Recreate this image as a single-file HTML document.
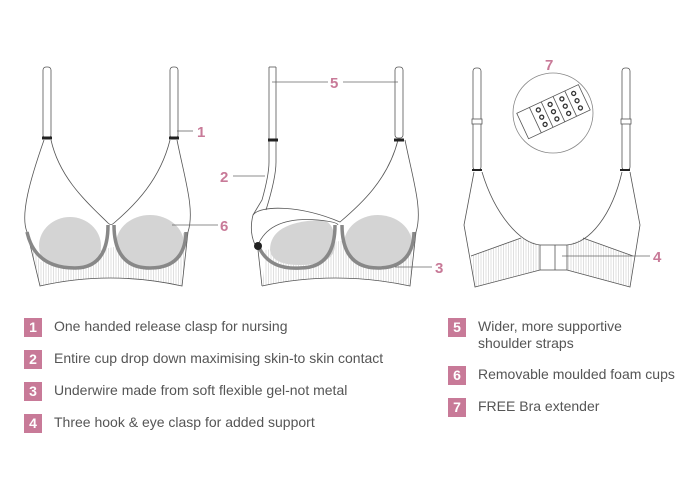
<!DOCTYPE html>
<html><head><meta charset="utf-8"><style>
body{margin:0;background:#fff;width:700px;height:500px;overflow:hidden;font-family:"Liberation Sans",sans-serif}
.b{position:absolute;width:18px;height:19px;background:#c87a98;color:#fff;font-size:14px;line-height:19px;text-align:center;font-weight:bold}
.t{position:absolute;font-size:14px;color:#555;line-height:17px}
</style></head><body>
<svg width="700" height="500" style="position:absolute;left:0;top:0">
<defs>
<pattern id="vl" width="2.5" height="10" patternUnits="userSpaceOnUse"><line x1="1" y1="0" x2="1" y2="10" stroke="#ccc" stroke-width="0.6"/></pattern>
<clipPath id="c1"><path d="M27,232 Q35,268 75,268 Q108,268 108,225 L108,200 L27,200Z"/></clipPath>
<clipPath id="c2"><path d="M114,225 Q114,268 150,268 Q185,268 186,232 L186,200 L114,200Z"/></clipPath>
<clipPath id="c3"><path d="M342,225 Q342,268 378,268 Q413,268 414,232 L414,200 L342,200Z"/></clipPath>
</defs>
<g fill="none" stroke="#555" stroke-width="0.8">
<!-- LEFT BRA -->
<rect x="43" y="67" width="8" height="71" rx="3" fill="#fff"/>
<rect x="170" y="67" width="8" height="71" rx="3" fill="#fff"/>
<path d="M40,262 L27,232 L40,286 Q110,270 182,286 L188,232 Z" fill="url(#vl)" stroke="none"/>
<path d="M44,140 C30,180 20,215 27,232 L40,286 Q110,270 182,286 L188,232 C195,210 185,180 177,140"/>
<path d="M51,140 C60,180 90,205 108,223 Q111,226 114,223 C135,205 160,180 170,140"/>
<ellipse cx="70" cy="246" rx="31" ry="29" fill="#d4d4d4" stroke="none" clip-path="url(#c1)"/>
<ellipse cx="150" cy="244" rx="34" ry="29" fill="#d4d4d4" stroke="none" clip-path="url(#c2)"/>
<path d="M27,232 Q35,268 75,268 Q108,268 108,225" stroke="#888" stroke-width="3.5"/>
<path d="M114,225 Q114,268 150,268 Q185,268 186,232" stroke="#888" stroke-width="3.5"/>
<path d="M42,138 h10 M169,138 h10" stroke="#222" stroke-width="3"/>
<!-- MIDDLE BRA -->
<path d="M269,67 v95 Q269,175 262,200 L253,215" fill="#fff"/>
<path d="M276,67 v95 Q276,178 266,210" fill="none"/>
<line x1="269" y1="67" x2="276" y2="67"/>
<rect x="395" y="67" width="8" height="71" rx="3" fill="#fff"/>
<path d="M265,262 L262,286 Q335,270 410,286 L416,232 L265,250Z" fill="url(#vl)" stroke="none"/>
<path d="M262,286 Q335,270 410,286 L416,232 C423,210 413,180 405,140"/>
<path d="M398,140 C388,180 360,205 340,222 C300,205 260,205 253,215 Q248,235 258,250 L262,286"/>
<path d="M270,250 Q270,222 320,220 Q335,220 335,245 Q335,265 300,265 Q272,265 270,250Z" fill="#d4d4d4" stroke="none"/>
<ellipse cx="378" cy="244" rx="34" ry="29" fill="#d4d4d4" stroke="none" clip-path="url(#c3)"/>
<path d="M258,245 Q270,216 318,220 Q338,222 338,225" />
<path d="M258,245 Q268,270 300,268 Q335,268 335,225" stroke="#888" stroke-width="3.5"/>
<path d="M342,225 Q342,268 378,268 Q413,268 414,232" stroke="#888" stroke-width="3.5"/>
<circle cx="258" cy="246" r="4" fill="#222" stroke="none"/>
<path d="M268,140 h10 M394,140 h10" stroke="#222" stroke-width="3"/>
<!-- RIGHT BRA -->
<rect x="473" y="68" width="8" height="102" rx="3" fill="#fff"/>
<rect x="622" y="68" width="8" height="102" rx="3" fill="#fff"/>
<rect x="472" y="119" width="10" height="5" fill="#fff"/>
<rect x="621" y="119" width="10" height="5" fill="#fff"/>
<path d="M471,256 L521,238 Q535,243 540,245 L540,270 L475,287Z M567,245 Q580,240 583,238 L633,256 L630,287 L567,270Z" fill="url(#vl)" stroke="none"/>
<path d="M474,172 L464,225 L475,287 L540,270 M567,270 L630,287 L640,225 L630,172"/>
<path d="M482,172 C495,215 520,243 540,245 M567,245 C590,243 612,215 622,172"/>
<path d="M471,256 L521,238 M583,238 L633,256"/>
<rect x="540" y="245" width="27" height="25" fill="none"/>
<line x1="555" y1="245" x2="555" y2="270"/>
<path d="M472,170 h10 M620,170 h10" stroke="#222" stroke-width="2"/>
<circle cx="553" cy="113" r="40" fill="#fff" stroke="#888"/>
<g transform="rotate(-25 553 113)">
<rect x="520" y="98" width="68" height="28" fill="#fff"/>
<line x1="534" y1="98" x2="534" y2="126"/><line x1="547" y1="98" x2="547" y2="126"/><line x1="560" y1="98" x2="560" y2="126"/><line x1="573" y1="98" x2="573" y2="126"/>
<g stroke="#333" stroke-width="1.3">
<circle cx="541" cy="104" r="2"/><circle cx="541" cy="112" r="2"/><circle cx="541" cy="120" r="2"/>
<circle cx="554" cy="104" r="2"/><circle cx="554" cy="112" r="2"/><circle cx="554" cy="120" r="2"/>
<circle cx="567" cy="104" r="2"/><circle cx="567" cy="112" r="2"/><circle cx="567" cy="120" r="2"/>
<circle cx="580" cy="104" r="2"/><circle cx="580" cy="112" r="2"/><circle cx="580" cy="120" r="2"/>
</g></g>
<g stroke="#666">
<line x1="177" y1="131" x2="193" y2="131"/>
<line x1="272" y1="82" x2="328" y2="82"/><line x1="343" y1="82" x2="398" y2="82"/>
<line x1="233" y1="176" x2="265" y2="176"/>
<line x1="172" y1="225" x2="218" y2="225"/>
<line x1="395" y1="267" x2="432" y2="267"/>
<line x1="562" y1="256" x2="650" y2="256"/>
</g>
</g>
<g fill="#c87a98" font-family="Liberation Sans" font-weight="bold" font-size="15">
<text x="197" y="137">1</text><text x="330" y="88">5</text><text x="220" y="182">2</text>
<text x="220" y="231">6</text><text x="435" y="273">3</text><text x="653" y="262">4</text><text x="545" y="70">7</text>
</g>
</svg>
<div class="b" style="left:24px;top:318px">1</div><div class="t" style="left:54px;top:318px">One handed release clasp for nursing</div>
<div class="b" style="left:24px;top:350px">2</div><div class="t" style="left:54px;top:350px">Entire cup drop down maximising skin-to skin contact</div>
<div class="b" style="left:24px;top:382px">3</div><div class="t" style="left:54px;top:382px">Underwire made from soft flexible gel-not metal</div>
<div class="b" style="left:24px;top:414px">4</div><div class="t" style="left:54px;top:414px">Three hook &amp; eye clasp for added support</div>
<div class="b" style="left:448px;top:318px">5</div><div class="t" style="left:478px;top:318px">Wider, more supportive<br>shoulder straps</div>
<div class="b" style="left:448px;top:366px">6</div><div class="t" style="left:478px;top:366px">Removable moulded foam cups</div>
<div class="b" style="left:448px;top:398px">7</div><div class="t" style="left:478px;top:398px">FREE Bra extender</div>
</body></html>
